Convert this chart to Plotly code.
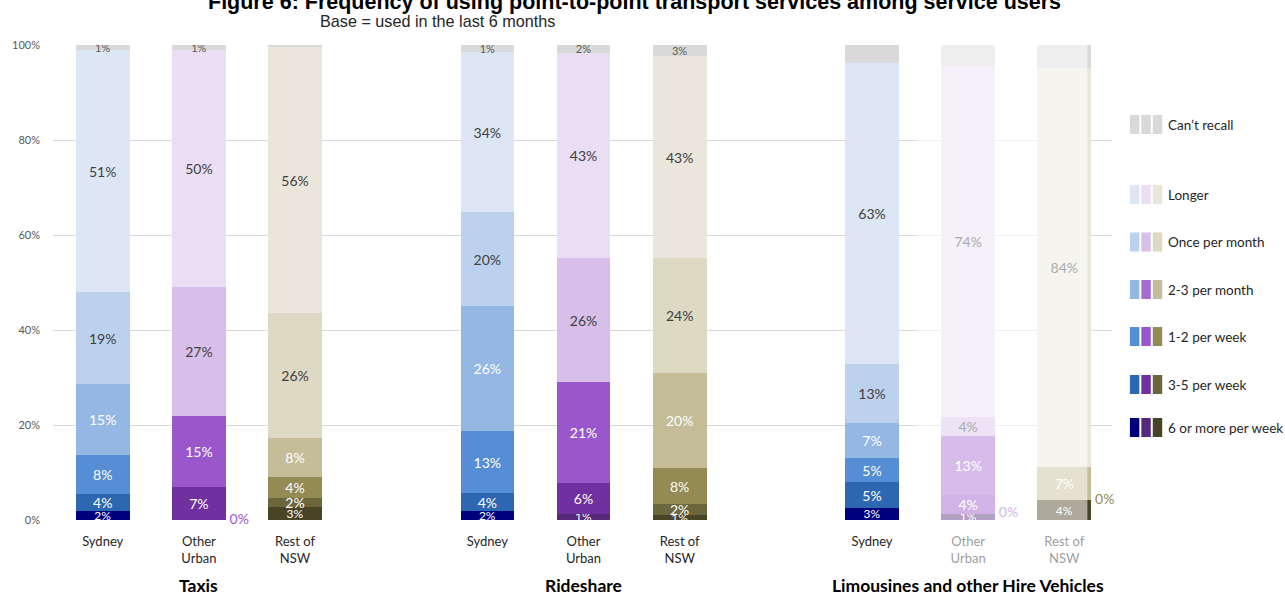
import plotly.graph_objects as go

# ---------------- data ----------------
columns = ["Sydney", "Other<br>Urban", "Rest of<br>NSW"] * 3
positions = [0, 1, 2, 4, 5, 6, 8, 9, 10]
families = ["blue", "purple", "olive"] * 3
groups = ["Taxis", "Rideshare", "Limousines and other Hire Vehicles"]
group_centres = [1, 5, 9]

categories = ["6 or more per week", "3-5 per week", "1-2 per week", "2-3 per month",
              "Once per month", "Longer", "Can’t recall"]

# columns: Taxis Syd, Taxis OU, Taxis Rest, Ride Syd, Ride OU, Ride Rest, Limo Syd, Limo OU, Limo Rest
six_plus      = [1.9, 0.0, 2.7, 1.9, 1.3, 1.0, 2.6, 1.3, 4.2]
three_five    = [3.6, 7.0, 1.9, 3.7, 6.4, 2.3, 5.3, 0.0, 0.0]
one_two_week  = [8.1, 15.0, 4.4, 13.2, 21.3, 7.6, 5.1, 4.0, 0.0]
two_three_mth = [15.1, 0.0, 8.3, 26.2, 0.0, 20.0, 7.4, 12.4, 6.9]
once_month    = [19.2, 27.0, 26.2, 19.8, 26.2, 24.2, 12.5, 4.0, 0.0]
longer        = [51.1, 50.0, 56.1, 33.7, 43.2, 42.6, 63.4, 73.9, 84.1]
cant_recall   = [1.0, 1.0, 0.4, 1.5, 1.6, 2.3, 3.7, 4.4, 4.8]

lab_six_plus      = ["2%", "", "3%", "2%", "1%", "1%", "3%", "1%", "4%"]
lab_three_five    = ["4%", "7%", "2%", "4%", "6%", "2%", "5%", "", ""]
lab_one_two_week  = ["8%", "15%", "4%", "13%", "21%", "8%", "5%", "4%", ""]
lab_two_three_mth = ["15%", "", "8%", "26%", "", "20%", "7%", "13%", "7%"]
lab_once_month    = ["19%", "27%", "26%", "20%", "26%", "24%", "13%", "4%", ""]
lab_longer        = ["51%", "50%", "56%", "34%", "43%", "43%", "63%", "74%", "84%"]
lab_cant_recall   = ["1%", "1%", "", "1%", "2%", "3%", "", "4%", ""]

# explicit zero-value labels: (column index, category index)
zero_labels = [(1, 0), (7, 1), (8, 1)]

series = [six_plus, three_five, one_two_week, two_three_mth, once_month, longer, cant_recall]
labels = [lab_six_plus, lab_three_five, lab_one_two_week, lab_two_three_mth,
          lab_once_month, lab_longer, lab_cant_recall]

# ---------------- styles ----------------
palette = {
    "blue":   ["#00007F", "#2E67B1", "#558ED5", "#95B7E3", "#BCD1EE", "#DCE6F4", "#D9D9D9"],
    "purple": ["#552A7C", "#7030A0", "#9A57CC", "#A66BD3", "#D8BFEA", "#EADDF4", "#D9D9D9"],
    "olive":  ["#4A4427", "#6C663C", "#948A54", "#C4BD97", "#DDD9C3", "#EAE6DB", "#D9D9D9"],
}
text_colours = ["white", "white", "white", "white", "#404040", "#404040", "#595959"]
text_sizes = [12, 14, 14, 14, 14, 14, 11]
FONT = "Lato, 'Open Sans', sans-serif"
ARIAL = "'Liberation Sans', Arial, sans-serif"

X_RANGE = [-0.517, 10.496]
BAR_W = 0.558
L, R, T, B = 47, 173, 45, 75
W, H = 1285, 595
PW, PH = W - L - R, H - T - B


def px_x(p):
    return (p - L) / PW


def px_y(p):
    return (H - B - p) / PH


def data_to_paper_x(v):
    return (v - X_RANGE[0]) / (X_RANGE[1] - X_RANGE[0])


fig = go.Figure()

for k, (cat, vals, labs) in enumerate(zip(categories, series, labels)):
    fig.add_trace(go.Bar(
        x=positions, y=vals, name=cat, width=BAR_W,
        marker=dict(color=[palette[f][k] for f in families], line=dict(width=0)),
        text=labs, textposition="inside", insidetextanchor="middle",
        textangle=0, constraintext="none",
        textfont=dict(family=FONT, size=text_sizes[k], color=text_colours[k]),
        hoverinfo="skip",
    ))

# zero-value labels placed beside the bar at the level where the segment would sit
zx, zy, zc = [], [], []
for col, cat in zero_labels:
    zx.append(positions[col] + 0.42)
    zy.append(sum(series[j][col] for j in range(cat)))
    zc.append(palette[families[col]][2])
fig.add_trace(go.Scatter(
    x=zx, y=zy, mode="text", text=["0%"] * len(zx),
    textfont=dict(family=FONT, size=14, color=zc), hoverinfo="skip", cliponaxis=False,
))

fig.update_layout(
    width=W, height=H, autosize=False,
    margin=dict(l=L, r=R, t=T, b=B),
    barmode="stack", showlegend=False,
    plot_bgcolor="white", paper_bgcolor="white",
    font=dict(family=FONT, color="#262626"),
    xaxis=dict(range=X_RANGE, tickvals=positions, ticktext=columns,
               showgrid=False, zeroline=False, showline=False, ticks="",
               tickfont=dict(family=FONT, size=13, color="#262626"),
               ticklabelstandoff=12),
    yaxis=dict(range=[0, 100], dtick=20, ticksuffix="%", showgrid=True,
               gridcolor="#D9D9D9", gridwidth=1, zeroline=False, showline=False,
               ticks="", tickfont=dict(family=FONT, size=11, color="#595959"),
               ticklabelstandoff=12),
)

shapes = []
# faded overlay for low-base columns
shapes.append(dict(type="rect", xref="paper", yref="paper",
                   x0=data_to_paper_x(8.45), x1=data_to_paper_x(10.24),
                   y0=px_y(572), y1=px_y(40),
                   fillcolor="white", opacity=0.55, line=dict(width=0), layer="above"))

# custom legend: three colour chips per entry
legend_order = [6, 5, 4, 3, 2, 1, 0]
legend_y = [124.5, 194.5, 242, 289.5, 336.5, 384.5, 427.5]
chip_x = [1130, 1141.5, 1153]
annotations = []
for k, yc in zip(legend_order, legend_y):
    for cx, fam in zip(chip_x, ["blue", "purple", "olive"]):
        shapes.append(dict(type="rect", xref="paper", yref="paper",
                           x0=px_x(cx), x1=px_x(cx + 9.5),
                           y0=px_y(yc + 9.5), y1=px_y(yc - 9.5),
                           fillcolor=palette[fam][k], line=dict(width=0)))
    annotations.append(dict(xref="paper", yref="paper", x=px_x(1166), y=px_y(yc),
                            xanchor="left", yanchor="middle", showarrow=False,
                            text=categories[k], font=dict(family=FONT, size=13.5, color="#262626")))

# group labels
for g, c in zip(groups, group_centres):
    annotations.append(dict(xref="x", yref="paper", x=c, y=px_y(585),
                            xanchor="center", yanchor="middle", showarrow=False,
                            text=f"<b>{g}</b>", font=dict(family=FONT, size=17.5, color="black")))

# title & subtitle
annotations.append(dict(xref="paper", yref="paper", x=px_x(632), y=px_y(2),
                        xanchor="center", yanchor="middle", showarrow=False,
                        text="<b>Figure 6: Frequency of using point-to-point transport services among service users</b>",
                        font=dict(family=ARIAL, size=21.5, color="black")))
annotations.append(dict(xref="paper", yref="paper", x=px_x(434), y=px_y(21.5),
                        xanchor="center", yanchor="middle", showarrow=False,
                        text="Base = used in the last 6 months",
                        font=dict(family=ARIAL, size=16.2, color="#262626")))

fig.update_layout(shapes=shapes, annotations=annotations)
fig.write_html("out.html", config={"displayModeBar": False},
               post_script="document.body.style.margin='0px';")
